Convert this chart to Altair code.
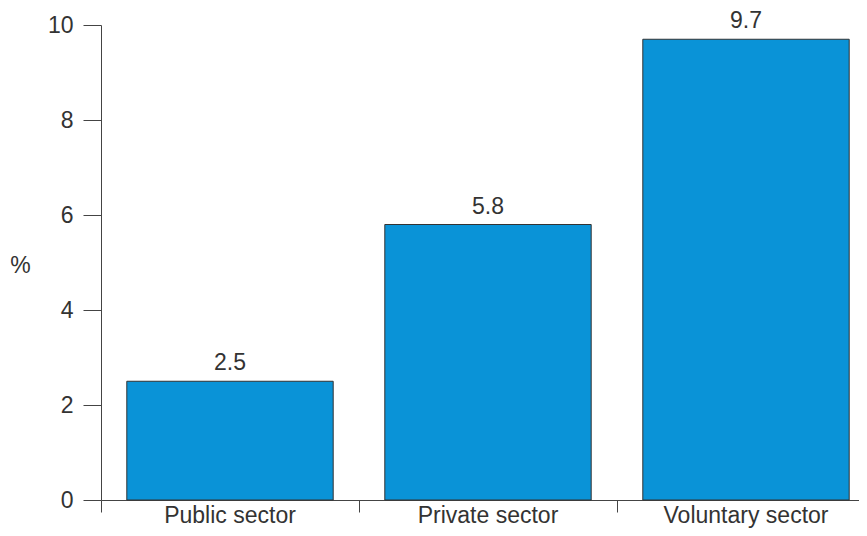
import altair as alt
import pandas as pd

sectors = ["Public sector", "Private sector", "Voluntary sector"]
values = [2.5, 5.8, 9.7]
labels = ["2.5", "5.8", "9.7"]
y_ticks = [0, 2, 4, 6, 8, 10]

df = pd.DataFrame({"sector": sectors, "value": values, "label": labels})

FONT = "Liberation Sans"
TEXT = "#333333"
LINE = "#444444"
FS = 23

x = alt.X(
    "sector:N", sort=sectors, title=None,
    scale=alt.Scale(paddingInner=0.2, paddingOuter=0.1, range=[0, 774]),
    axis=alt.Axis(labelAngle=0, bandPosition=-0.125, tickSize=12,
                  labelBaseline="alphabetic", labelPadding=10,
                  domainColor=LINE, tickColor=LINE, labelFont=FONT,
                  labelFontSize=FS, labelColor=TEXT),
)
y = alt.Y(
    "value:Q", scale=alt.Scale(domain=[0, 10], nice=False),
    axis=alt.Axis(values=y_ticks, grid=False, tickSize=18, labelPadding=10,
                  domainColor=LINE, tickColor=LINE, labelFont=FONT,
                  labelFontSize=FS, labelColor=TEXT,
                  title="%", titleAngle=0, titleX=-81, titleY=240,
                  titleAlign="center", titleBaseline="middle",
                  titleFont=FONT, titleFontSize=FS, titleFontWeight="normal",
                  titleColor=TEXT),
)

base = alt.Chart(df)
bars = base.mark_bar(color="#0A93D7", stroke="#333333", strokeWidth=1).encode(x=x, y=y)
text = base.mark_text(baseline="alphabetic", dy=-11, font=FONT, fontSize=FS, color=TEXT).encode(
    x=alt.X("sector:N", sort=sectors), y="value:Q", text="label:N")

chart = (bars + text).properties(
    width=758, height=475,
    autosize=alt.AutoSizeParams(type="none"),
    padding={"left": 93, "top": 17, "right": 0, "bottom": 28},
).configure_view(stroke=None)

chart.save("out.html", embed_options={"renderer": "svg", "actions": False})
